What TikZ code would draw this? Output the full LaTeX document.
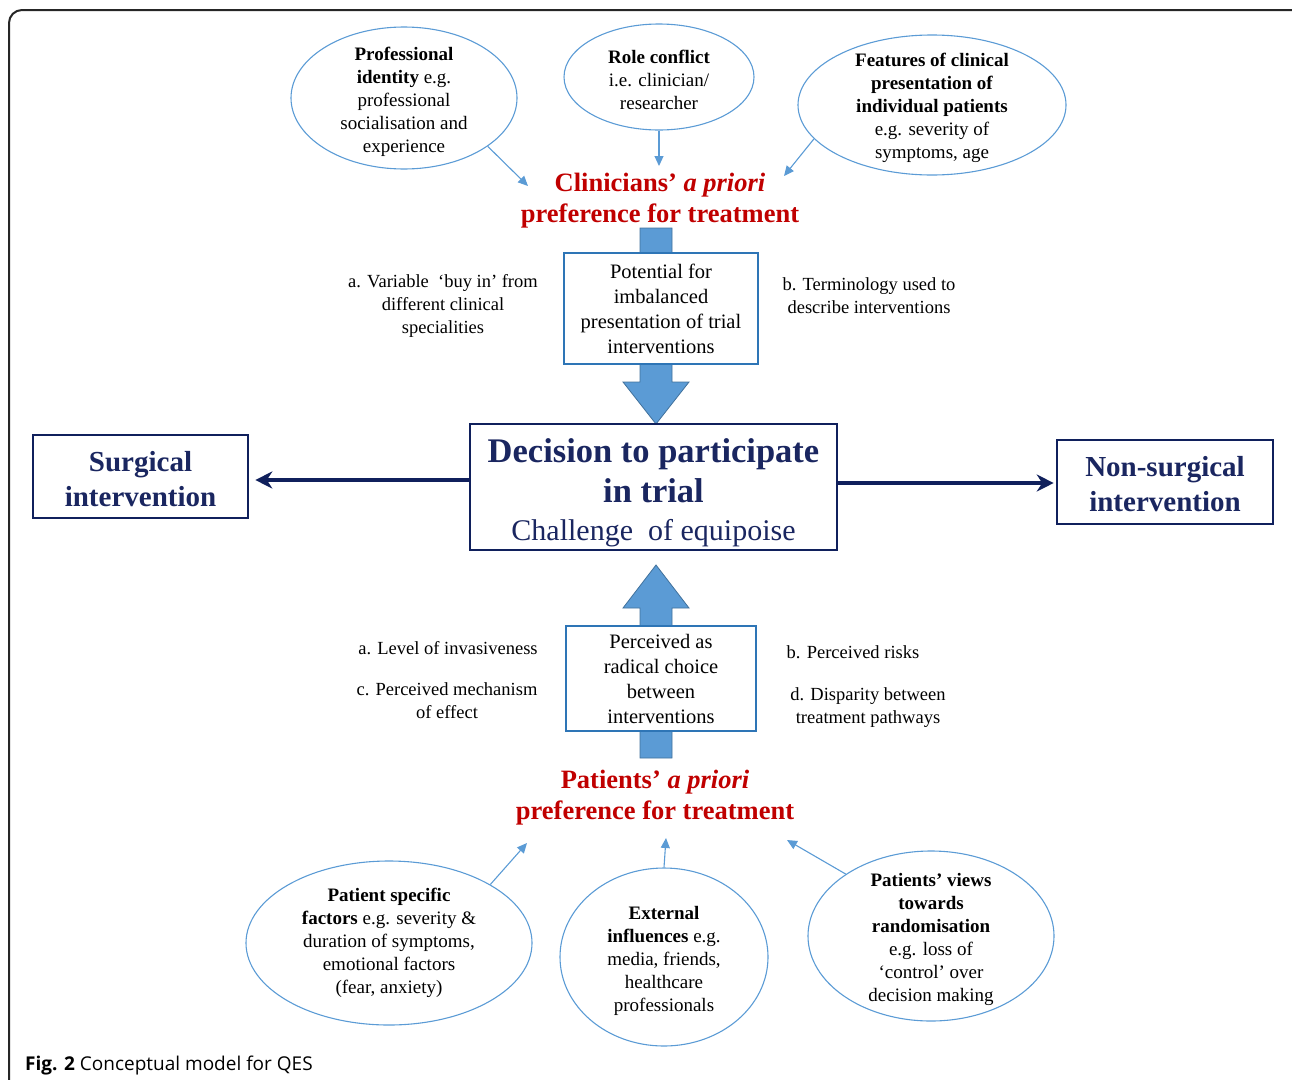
\documentclass[tikz,border=0pt]{standalone}
\usepackage{fontspec}
\setmainfont{Liberation Serif}
\newfontfamily\capfont{Open Sans}
\usetikzlibrary{shapes.geometric,arrows.meta,calc}
\definecolor{ellblue}{HTML}{5B9BD5}
\definecolor{blkfill}{HTML}{5B9BD5}
\definecolor{blkedge}{HTML}{41719C}
\definecolor{boxblue}{HTML}{2E75B6}
\definecolor{navy}{HTML}{10205C}
\definecolor{navytext}{HTML}{1A2660}
\definecolor{redtxt}{HTML}{C00000}
\newcommand\tup[1]{\rule{0pt}{#1pt}}
\begin{document}
\begin{tikzpicture}[x=1pt,y=-1pt,
  ell/.style={ellipse, draw=ellblue, line width=1.1pt, inner sep=-30pt, align=center,
    font=\fontsize{19}{23}\selectfont},
  thinarr/.style={draw=ellblue, line width=1.1pt, -{Triangle[length=10pt,width=9pt]}},
  redhead/.style={align=center, text=redtxt, inner sep=0pt,
    font=\fontsize{26.5}{31}\selectfont\bfseries},
  sidelbl/.style={align=center, inner sep=0pt, font=\fontsize{18.5}{23}\selectfont},
  midbox/.style={draw=boxblue, fill=white, line width=1.3pt, align=center, inner sep=0pt,
    font=\fontsize{20.5}{25}\selectfont},
  navybox/.style={draw=navy, fill=white, line width=2.6pt, align=center, inner sep=0pt,
    text=navytext},
  navyarr/.style={draw=navy, line width=4.5pt, -{Stealth[length=17pt,width=17pt]}},
  blockarr/.style={fill=blkfill, draw=blkedge, line width=0.8pt, line join=miter}
]
\useasboundingbox (0,0) rectangle (1292,1079);
\begin{scope}
\clip (0,0) rectangle (1292,1079);
\draw[line width=2pt, draw=black!85, rounded corners=13pt] (9,10) rectangle (1310,1110);
\end{scope}

% top ellipses
\node[ell, minimum width=226, minimum height=142] (e1) at (404,98)
  {\tup{21}\textbf{Professional}\\\textbf{identity} e.g.\\professional\\socialisation and\\experience};
\node[ell, minimum width=190, minimum height=106] (e2) at (659,77)
  {\tup{19.5}\textbf{Role conflict}\\i.e. clinician/\\researcher};
\node[ell, minimum width=268, minimum height=140] (e3) at (932,105)
  {\tup{19.5}\textbf{Features of clinical}\\\textbf{presentation of}\\\textbf{individual patients}\\e.g. severity of\\symptoms, age};

% clinicians heading
\node[redhead] (clin) at (660,201) {Clinicians’ \textit{a priori}\\preference for treatment};
\coordinate (t1) at (528,186);
\coordinate (t2) at (659,166);
\coordinate (t3) at (784,176);
\draw[thinarr] (e1.-30) -- (t1);
\draw[thinarr] (e2.south) -- (t2);
\draw[thinarr] (e3.196) -- (t3);

% block arrows
\filldraw[blockarr] (640,228) -- (672,228) -- (672,382) -- (689,382) -- (656,424)
  -- (623,382) -- (640,382) -- cycle;
\filldraw[blockarr] (656,565) -- (689,608) -- (672,608) -- (672,758) -- (640,758)
  -- (640,608) -- (623,608) -- cycle;

% middle boxes
\node[midbox, minimum width=194, minimum height=111] (box1) at (661,308.5)
  {Potential for\\imbalanced\\presentation of trial\\interventions};
\node[midbox, minimum width=190, minimum height=105] (box2) at (661,678.5)
  {Perceived as\\radical choice\\between\\interventions};

% side labels
\node[sidelbl] (la) at (443,306) {a. Variable\ \ ‘buy in’\ from\\different clinical\\specialities};
\node[sidelbl] (lb) at (869,296) {b. Terminology\ used to\\describe interventions};
\node[sidelbl] (pa) at (448,648) {a. Level of invasiveness};
\node[sidelbl] (pc) at (447,701) {c. Perceived mechanism\\of effect};
\node[sidelbl] (pb) at (853,652) {b. Perceived risks};
\node[sidelbl] (pd) at (868,708) {d. Disparity between\\treatment pathways};

% central decision box
\node[navybox, minimum width=367, minimum height=126,
  font=\fontsize{34.5}{40}\selectfont] (dec) at (653.5,487)
  {\tup{35}\textbf{Decision to participate}\\\textbf{in trial}\\[-2pt]{\fontsize{30}{36}\selectfont Challenge\ \ of equipoise}};
\node[navybox, minimum width=215, minimum height=83,
  font=\fontsize{29}{35}\selectfont\bfseries] (surg) at (140.5,476.5) {\tup{26}Surgical\\intervention};
\node[navybox, minimum width=216, minimum height=84,
  font=\fontsize{29}{35}\selectfont\bfseries] (nons) at (1165,482) {\tup{24}Non-surgical\\intervention};
\draw[navyarr] ($(dec.west|-surg.east)+(0,3.5)$) -- ($(surg.east)+(6,3.5)$);
\draw[navyarr] ($(dec.east|-nons.west)+(0,1)$) -- ($(nons.west)+(-2,1)$);

% patients heading
\node[redhead] (pat) at (655,798) {Patients’ \textit{a priori}\\preference for treatment};

% bottom ellipses
\node[ell, minimum width=286, minimum height=164] (b1) at (389,943)
  {\textbf{Patient\ specific}\\\textbf{factors} e.g. severity \&\\duration of symptoms,\\emotional factors\\(fear, anxiety)};
\node[ell, minimum width=208, minimum height=178] (b2) at (664,957)
  {\tup{21}\textbf{External}\\\textbf{influences} e.g.\\media, friends,\\healthcare\\professionals};
\node[ell, minimum width=246, minimum height=170] (b3) at (931,936)
  {\tup{21}\textbf{Patients’ views}\\\textbf{towards}\\\textbf{randomisation}\\e.g. loss of\\‘control’ over\\decision making};
\coordinate (s1) at (527,843);
\coordinate (s2) at (666,838);
\coordinate (s3) at (787,840);
\draw[thinarr] (b1.30) -- (s1);
\draw[thinarr] (b2.north) -- (s2);
\draw[thinarr] (b3.144) -- (s3);

% caption
\node[anchor=base west, inner sep=0pt, font=\capfont\fontsize{19}{23}\selectfont] (cap) at (25,1070)
  {\textbf{Fig. 2} Conceptual model for QES};
\end{tikzpicture}
\end{document}
